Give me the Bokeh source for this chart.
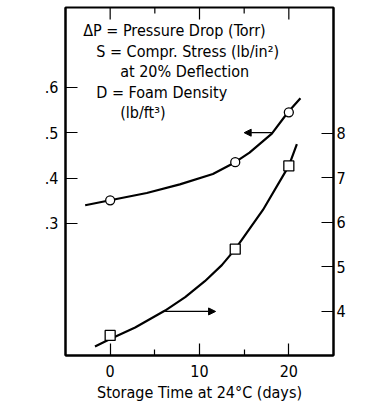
import numpy as np
from bokeh.plotting import figure
from bokeh.models import (Range1d, LinearAxis, FixedTicker, CustomJSTickFormatter,
                          Label, Arrow, NormalHead, AllLabels, ColumnDataSource)
from bokeh.embed import file_html
from bokeh.resources import INLINE

FONT = "DejaVu Sans Condensed"

# ---- data ----
s_days = [0, 14, 20]
s_vals = [0.351, 0.435, 0.545]            # dP/S  (left axis)
d_days = [0, 14, 20]
d_vals = [3.46, 5.40, 7.27]               # dP/D  (right axis)

s_curve_x = [-2.8, 0, 4.1, 7.8, 11.5, 14, 15.6, 18.1, 19.9, 21.3]
s_curve_y = [0.340, 0.351, 0.367, 0.386, 0.409, 0.435, 0.456, 0.498, 0.545, 0.576]

d_curve_x = [-1.7, 0, 2.8, 6.15, 8.4, 10.6, 12.5, 14, 17.1, 20, 20.9]
d_curve_y = [3.21, 3.38, 3.64, 4.02, 4.32, 4.68, 5.04, 5.40, 6.28, 7.27, 7.76]

x_ticks = [0, 10, 20]
x_minor = [5, 15]
left_ticks = [0.3, 0.4, 0.5, 0.6]
right_ticks = [4, 5, 6, 7, 8]

legend_lines = ["\u0394P = Pressure Drop (Torr)",
                "S = Compr. Stress (lb/in\u00b2)",
                "at 20% Deflection",
                "D = Foam Density",
                "(lb/ft\u00b3)"]

Y0, Y1 = 0.0088, 0.776
p = figure(width=372, height=405, output_backend="svg", toolbar_location=None,
           x_range=Range1d(-5, 25), y_range=Range1d(Y0, Y1),
           min_border_left=65, min_border_right=39, min_border_top=7, min_border_bottom=50)
p.extra_y_ranges = {"right": Range1d(3.01, 10.83)}
p.grid.visible = False
p.outline_line_color = "black"
p.outline_line_width = 2
p.background_fill_color = "white"
p.border_fill_color = "white"

def style_axis(ax):
    ax.axis_line_color = "black"
    ax.axis_line_width = 2
    ax.major_tick_in = 12
    ax.major_tick_out = 0
    ax.minor_tick_in = 6
    ax.minor_tick_out = 0
    ax.major_tick_line_width = 1.2
    ax.minor_tick_line_width = 1.2
    ax.major_label_text_font = FONT
    ax.major_label_text_font_size = "16px"
    ax.major_label_text_color = "black"
    ax.major_label_policy = AllLabels()
    ax.axis_label_text_font = FONT
    ax.axis_label_text_font_size = "16px"
    ax.axis_label_text_font_style = "normal"
    ax.axis_label_text_color = "black"

xax = p.xaxis[0]
xax.ticker = FixedTicker(ticks=list(x_ticks), minor_ticks=list(x_minor))
style_axis(xax)
xax.axis_label = "Storage Time at 24\u00b0C (days)"
xax.major_label_standoff = 9
xax.axis_label_standoff = 3

yax = p.yaxis[0]
yax.ticker = FixedTicker(ticks=list(left_ticks))
yax.formatter = CustomJSTickFormatter(code="return tick.toFixed(1).replace(/^0/, '')")
style_axis(yax)
yax.major_label_standoff = 7
yax.major_label_orientation = "horizontal"

rax = LinearAxis(y_range_name="right", ticker=FixedTicker(ticks=list(right_ticks)))
style_axis(rax)
rax.major_label_standoff = 3
p.add_layout(rax, "right")

# top-edge ticks (no labels), drawn downward from the frame top
top_major = ColumnDataSource(dict(x=np.array(x_ticks, dtype=float),
                                  y=np.full(len(x_ticks), Y1)))
top_minor = ColumnDataSource(dict(x=np.array(x_minor, dtype=float),
                                  y=np.full(len(x_minor), Y1)))
p.ray("x", "y", source=top_major, length=12, length_units="screen", angle=-np.pi / 2,
      line_color="black", line_width=1.2)
p.ray("x", "y", source=top_minor, length=6, length_units="screen", angle=-np.pi / 2,
      line_color="black", line_width=1.2)

# curves
p.line(s_curve_x, s_curve_y, line_color="black", line_width=2.2, line_join="round")
p.line(d_curve_x, d_curve_y, line_color="black", line_width=2.2, line_join="round",
       y_range_name="right")
p.scatter(s_days, s_vals, marker="circle", size=9, fill_color="white",
          line_color="black", line_width=1.3)
p.scatter(d_days, d_vals, marker="square", size=10, fill_color="white",
          line_color="black", line_width=1.3, y_range_name="right")

# arrows
p.add_layout(Arrow(x_start=18.1, y_start=0.500, x_end=15.0, y_end=0.500,
                   line_width=1.2, end=NormalHead(size=7, fill_color="black", line_color="black")))
p.add_layout(Arrow(x_start=6.15, y_start=4.0, x_end=11.8, y_end=4.0, y_range_name="right",
                   line_width=1.2, end=NormalHead(size=7, fill_color="black", line_color="black")))

# legend text block
lx = [-3.02, -1.56, 1.12, -1.56, 1.12]
ly = [0.725, 0.679, 0.635, 0.589, 0.545]
for t, x, y in zip(legend_lines, lx, ly):
    p.add_layout(Label(x=x, y=y, text=t, text_font=FONT, text_font_size="16px",
                       text_baseline="middle", text_align="left", text_color="black"))

# axis titles placed beside the axes
p.add_layout(Label(x=-10.06, y=0.446, text="\u0394P/S", angle=np.pi / 2, text_font=FONT,
                   text_font_size="16px", text_align="center", text_baseline="middle"))
p.add_layout(Label(x=28.3, y=0.309, text="\u0394P/D", angle=np.pi / 2, text_font=FONT,
                   text_font_size="16px", text_align="center", text_baseline="middle"))

open("out.html", "w").write(file_html(p, INLINE))
